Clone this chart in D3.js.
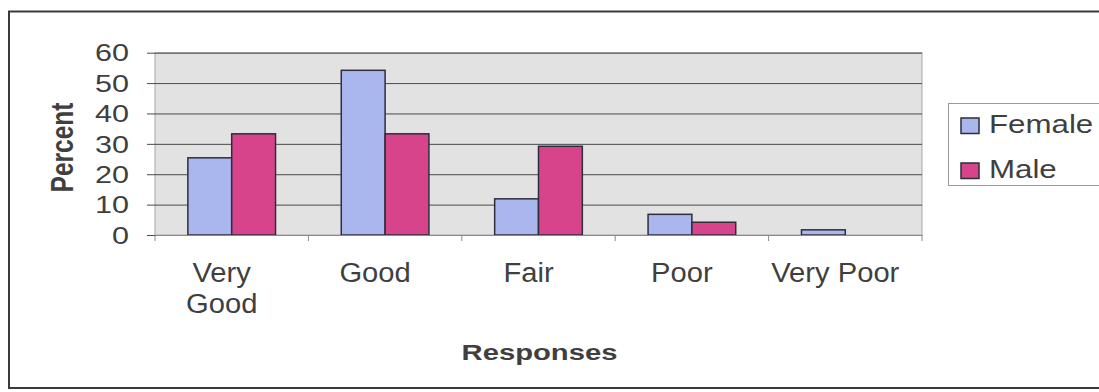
<!DOCTYPE html>
<html>
<head>
<meta charset="utf-8">
<script src="https://cdn.jsdelivr.net/npm/d3@7"></script>
<style>
  html, body { margin: 0; padding: 0; background: #fff; }
  svg { display: block; }
  text { font-family: "Liberation Sans", Arial, sans-serif; fill: #3f3f3f; }
</style>
</head>
<body>
<svg id="chart" width="1099" height="392"></svg>
<script>
// Self-rated responses by sex (percent)
const categories = ["Very Good", "Good", "Fair", "Poor", "Very Poor"];
const seriesNames = ["Female", "Male"];
const female = [25.4, 54.2, 11.9, 6.8, 1.7];
const male = [33.3, 33.3, 29.2, 4.2, 0];
const yTicks = [0, 10, 20, 30, 40, 50, 60];
const seriesColors = ["#aab7ef", "#d8448b"];

const svg = d3.select("#chart");

// outer chart frame
svg.append("rect")
  .attr("x", 9).attr("y", 11.5)
  .attr("width", 1110).attr("height", 376.5)
  .attr("fill", "#fff")
  .attr("stroke", "#3a3a3a").attr("stroke-width", 2);

const plot = { left: 155, right: 922, top: 52.7, bottom: 235 };

const x = d3.scaleBand()
  .domain(categories)
  .range([plot.left, plot.right])
  .padding(0);

const xInner = d3.scaleBand()
  .domain(seriesNames)
  .range([0, x.bandwidth()])
  .paddingInner(0)
  .paddingOuter(0.75);

const y = d3.scaleLinear()
  .domain([0, 60])
  .range([plot.bottom, plot.top]);

// plot area background
svg.append("rect")
  .attr("x", plot.left).attr("y", plot.top)
  .attr("width", plot.right - plot.left).attr("height", plot.bottom - plot.top)
  .attr("fill", "#e2e2e2")
  .attr("stroke", "#a8a8a8").attr("stroke-width", 1);

// gridlines + y axis
const yAxis = svg.append("g")
  .attr("transform", `translate(${plot.left},0)`)
  .call(d3.axisLeft(y).tickValues(yTicks)
    .tickSize(-(plot.right - plot.left)).tickSizeOuter(0).tickPadding(0));
yAxis.select(".domain").remove();
yAxis.selectAll(".tick line")
  .attr("x1", -8)
  .attr("stroke", "#4a4a4a").attr("stroke-width", 1);
yAxis.selectAll(".tick text")
  .attr("x", 0).attr("dy", "0.36em")
  .attr("text-anchor", "end")
  .attr("transform", "translate(-26,0) scale(1.33,1)")
  .style("font-size", "23px")
  .style("font-family", "'Liberation Sans', Arial, sans-serif")
  .attr("fill", "#3f3f3f");

// bars
const data = categories.map((c, i) => ({ cat: c, vals: [female[i], male[i]] }));
const groups = svg.append("g").selectAll("g")
  .data(data).join("g")
  .attr("transform", d => `translate(${x(d.cat)},0)`);
groups.selectAll("rect")
  .data(d => d.vals.map((v, j) => ({ name: seriesNames[j], v, j })))
  .join("rect")
  .filter(d => d.v > 0)
  .attr("x", d => xInner(d.name))
  .attr("y", d => y(d.v))
  .attr("width", xInner.bandwidth())
  .attr("height", d => y(0) - y(d.v))
  .attr("fill", d => seriesColors[d.j])
  .attr("stroke", "#2e2e3a").attr("stroke-width", 1.5);

// category axis
const xAxis = svg.append("g")
  .attr("transform", `translate(0,${plot.bottom})`)
  .call(d3.axisBottom(x).tickSize(0).tickFormat(""));
xAxis.select(".domain").attr("stroke", "#8a8a8a");
xAxis.selectAll(".tick").remove();
const boundaries = categories.map(c => x(c)).concat([x(categories[categories.length - 1]) + x.bandwidth()]);
xAxis.selectAll("line.sep")
  .data(boundaries).join("line")
  .attr("class", "sep")
  .attr("x1", d => d).attr("x2", d => d)
  .attr("y1", 0).attr("y2", 6)
  .attr("stroke", "#8a8a8a");

// category labels (wrapped onto two lines where needed)
const wrapLines = { "Very Good": ["Very", "Good"] };
const catLabels = svg.append("g").selectAll("text")
  .data(categories).join("text")
  .attr("transform", d => `translate(${x(d) + x.bandwidth() / 2 - 10},282) scale(1.08,1)`)
  .attr("text-anchor", "middle")
  .style("font-size", "27px");
catLabels.each(function(d) {
  const lines = wrapLines[d] || [d];
  d3.select(this).selectAll("tspan")
    .data(lines).join("tspan")
    .attr("x", 0)
    .attr("dy", (l, i) => i === 0 ? 0 : 31)
    .text(l => l);
});

// axis titles
svg.append("text")
  .attr("transform", `translate(${(plot.left + plot.right) / 2 + 1},359.5) scale(1.3,1)`)
  .attr("text-anchor", "middle")
  .style("font-size", "22.5px").style("font-weight", "bold")
  .attr("fill", "#4a4a4a")
  .text("Responses");

svg.append("text")
  .attr("transform", "translate(73,147.5) scale(1.3,1) rotate(-90)")
  .attr("text-anchor", "middle")
  .style("font-size", "24.5px").style("font-weight", "bold")
  .attr("fill", "#4a4a4a")
  .text("Percent");

// legend
const legend = svg.append("g");
legend.append("rect")
  .attr("x", 948.5).attr("y", 103.5)
  .attr("width", 160).attr("height", 82)
  .attr("fill", "#fff")
  .attr("stroke", "#9a9a9a").attr("stroke-width", 1);
const items = legend.selectAll("g.item")
  .data(seriesNames).join("g")
  .attr("class", "item")
  .attr("transform", (d, i) => `translate(961,${132.5 + i * 45})`);
items.append("rect")
  .attr("x", 0).attr("y", -14.5)
  .attr("width", 18).attr("height", 15.5)
  .attr("fill", (d, i) => seriesColors[i])
  .attr("stroke", "#2e2e3a").attr("stroke-width", 1.5);
items.append("text")
  .attr("transform", "translate(28,0) scale(1.18,1)")
  .style("font-size", "26.5px")
  .text(d => d);
</script>
</body>
</html>
